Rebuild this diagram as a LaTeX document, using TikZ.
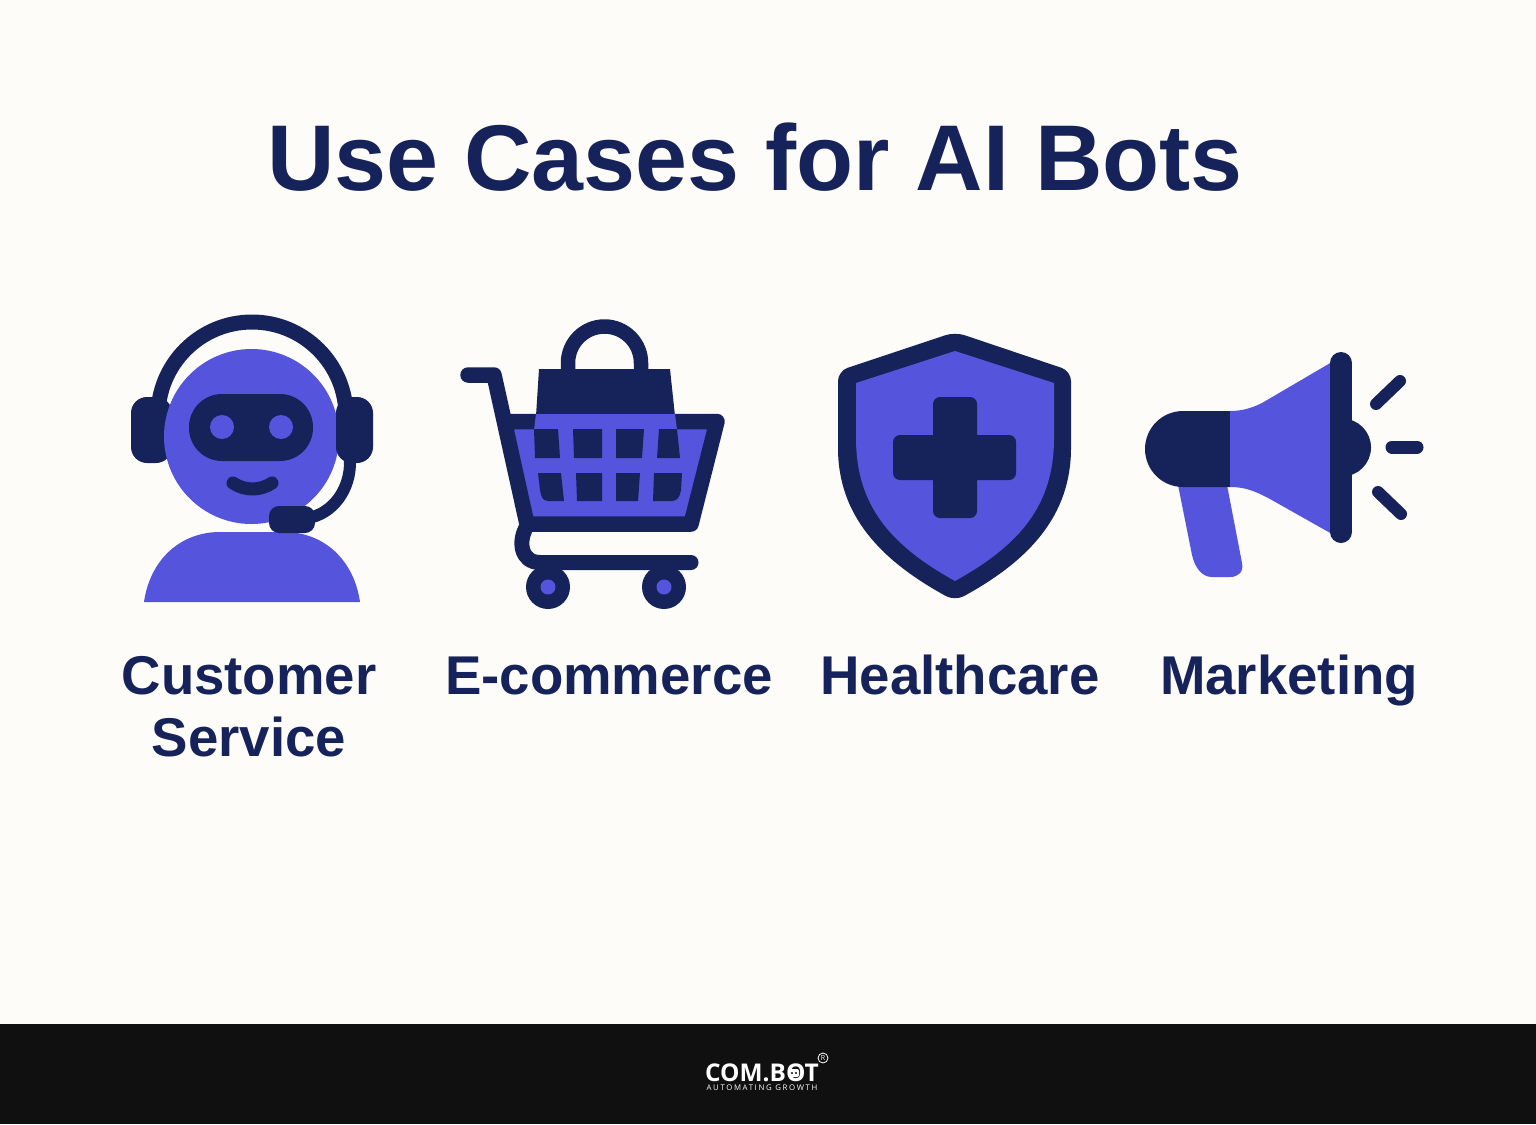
\documentclass[tikz,border=0pt]{standalone}
\usepackage{fontspec}
\setmainfont{Liberation Sans}
\newfontfamily\logofont{Open Sans}
\definecolor{paper}{HTML}{FDFCF8}
\definecolor{navy}{HTML}{16235A}
\definecolor{violet}{HTML}{5454DC}
\definecolor{footer}{HTML}{101010}
\tikzset{
  px/.style={x=0.5pt,y=-0.5pt},
  fillnavy/.style={fill=navy,draw=none},
  fillviolet/.style={fill=violet,draw=none},
  navyline/.style={draw=navy,line cap=round,line join=round,line width=#1*0.5pt},
  caption/.style={font=\fontsize{27.3}{31}\selectfont\bfseries,text=navy,align=center,inner sep=0pt}
}
\begin{document}
\begin{tikzpicture}[px]
  \useasboundingbox (0,0) rectangle (1536,1124);
  \fill[paper] (0,0) rectangle (1536,1124);
  \fill[footer] (0,1024) rectangle (1536,1124);
  %
  \node[font=\fontsize{46.7}{56}\selectfont\bfseries,text=navy,inner sep=0pt,anchor=base] (title) at (755,190) {Use Cases for AI Bots};
  % agent
  \draw[navyline=15] (158,416) arc[start angle=180,end angle=360,radius=94];
  \path[fillnavy,rounded corners=8pt] (131,397) rectangle (172,463);
  \fill[violet] (251.5,436.5) circle[radius=87.5];
  \path[fillnavy,rounded corners=8pt] (336,397) rectangle (373,463);
  \path[fillnavy,rounded corners=16.5pt] (189,394) rectangle (313,461);
  \fill[violet] (222,427) circle[radius=12];
  \fill[violet] (281,427) circle[radius=12];
  \draw[navyline=13] (233,483) .. controls (245,491) and (260,491) .. (272,483);
  \draw[navyline=12] (350,460) .. controls (351,490) and (332,514) .. (308,518);
  \path[fillviolet] (144,602) .. controls (150,560) and (180,532) .. (220,532) -- (284,532) .. controls (324,532) and (354,560) .. (360,602) -- cycle;
  \path[fillnavy,rounded corners=5pt] (269,506) rectangle (315,533);
  % cart
  \draw[navyline=14.5] (568,372) -- (568,363) arc[start angle=180,end angle=360,radius=36.5] -- (641,372);
  \path[fillnavy] (539,369) -- (670,369) -- (675,416) -- (536,416) -- cycle;
  \path[fillviolet] (510,425) -- (712,425) -- (690,520) -- (530,520) -- cycle;
  \draw[navyline=15.5] (468,375) -- (494,375) -- (527,524) -- (691,524) -- (717,421.5) -- (506,421.5);
  \path[fillviolet] (536,414) -- (675,414) -- (677,430) -- (534,430) -- cycle;
  \path[fillnavy] (534,429) -- (558,429) -- (560,458) -- (535,458) -- cycle;
  \path[fillnavy] (573,429) -- (602,429) -- (602,458) -- (574,458) -- cycle;
  \path[fillnavy] (616,429) -- (644,429) -- (642,458) -- (616,458) -- cycle;
  \path[fillnavy] (659,429) -- (677,429) -- (680,458) -- (657,458) -- cycle;
  \path[fillnavy] (538,473) -- (561,473) -- (564,501) -- (548,501) .. controls (543,501) and (541,497) .. (540,490) -- cycle;
  \path[fillnavy] (576,473) -- (602,473) -- (602,501) -- (577,501) -- cycle;
  \path[fillnavy] (616,473) -- (640,473) -- (638,501) -- (616,501) -- cycle;
  \path[fillnavy] (654,473) -- (682,473) -- (681,490) .. controls (680,497) and (677,501) .. (672,501) -- (653,501) -- cycle;
  \draw[navyline=15] (527,526) .. controls (518,540) and (520,562.5) .. (540,562.5) -- (691,562.5);
  \fill[navy] (548,587) circle[radius=22];
  \fill[navy] (664,587) circle[radius=22];
  \fill[violet] (548,587) circle[radius=7.5];
  \fill[violet] (664,587) circle[radius=7.5];
  % shield
  \path[fillnavy,rounded corners=5pt] (955,332) -- (1071,371) -- (1071,438) .. controls (1071,515) and (1030,560) .. (955,601) .. controls (880,560) and (838,515) .. (838,438) -- (838,371) -- cycle;
  \path[fillviolet] (955,351) -- (1054,383) -- (1054,438) .. controls (1054,505) and (1020,545) .. (955,581) .. controls (890,545) and (856,505) .. (856,438) -- (856,383) -- cycle;
  \path[fillnavy,rounded corners=3.5pt] (933,397) rectangle (977,518);
  \path[fillnavy,rounded corners=3.5pt] (893,435) rectangle (1016,480);
  % megaphone
  \path[fillviolet] (1178,485) -- (1227,485) -- (1242,563) .. controls (1244,572) and (1238,577) .. (1230,577) -- (1212,577) .. controls (1202,577) and (1195,568) .. (1192,555) -- cycle;
  \path[fillnavy] (1230,411) -- (1183,411) arc[start angle=270,end angle=90,radius=38] -- (1230,487) -- cycle;
  \fill[navy] (1342,447.5) circle[radius=29];
  \path[fillviolet] (1230,411) .. controls (1240,411) and (1250,409) .. (1262,403) -- (1332,362) -- (1332,534) -- (1270,499) .. controls (1255,491) and (1245,487) .. (1230,487) -- cycle;
  \draw[navyline=22] (1341,363) -- (1341,532);
  \draw[navyline=12] (1376,404) -- (1400,381);
  \draw[navyline=13] (1392,447) -- (1417,447);
  \draw[navyline=12] (1378,492) -- (1401,514);
  %
  \node[caption] (service) at (249,707) {Customer\\Service};
  \node[caption,anchor=base] (commerce) at (609,694) {E-commerce};
  \node[caption,anchor=base] (health) at (960,694) {Healthcare};
  \node[caption,anchor=base] (market) at (1289,694) {Marketing};
  % footer logo
  \node[font=\logofont\fontsize{12.2}{15}\selectfont\bfseries,text=white,inner sep=0pt,anchor=base] (brand) at (762,1081) {COM.BOT};
  \path[fill=white,rounded corners=1pt] (789,1069) rectangle (799,1077);
  \fill[footer] (792,1073) circle[radius=1.2];
  \fill[footer] (796,1073) circle[radius=1.2];
  \node[font=\logofont\fontsize{3.9}{5}\selectfont\addfontfeature{LetterSpace=21},text=white,inner sep=0pt,anchor=base] (slogan) at (762,1090) {AUTOMATING GROWTH};
  \node[draw=white,circle,line width=0.4pt,inner sep=0.6pt,font=\logofont\fontsize{3.5}{4}\selectfont,text=white] (mark) at (823,1058) {R};
\end{tikzpicture}
\end{document}
